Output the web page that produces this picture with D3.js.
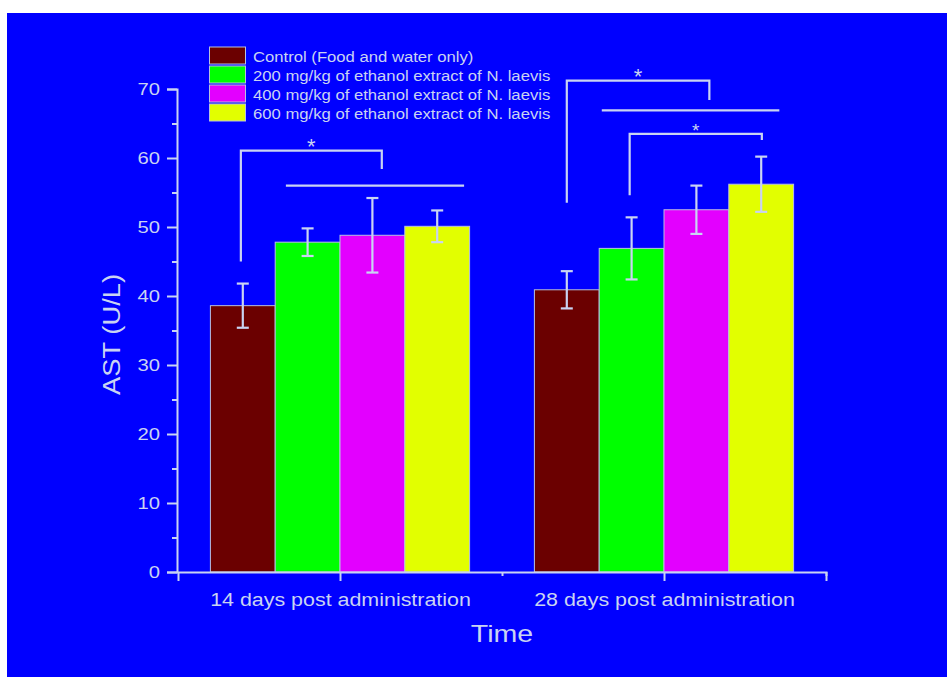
<!DOCTYPE html>
<html><head><meta charset="utf-8">
<script src="https://cdn.jsdelivr.net/npm/d3@7"></script>
<style>html,body{margin:0;padding:0;background:#fff;}svg{display:block;}</style>
</head><body>
<svg id="chart" width="947" height="677"></svg>
<script>
// ---- data ----
const groups = ["14 days post administration", "28 days post administration"];
const seriesNames = ["Control (Food and water only)", "200 mg/kg of ethanol extract of N. laevis",
  "400 mg/kg of ethanol extract of N. laevis", "600 mg/kg of ethanol extract of N. laevis"];
const seriesColors = ["#6b0000", "#00ff00", "#e300ff", "#e2ff00"];
const means14 = [38.6, 47.8, 48.8, 50.1];
const errs14 = [3.2, 2.0, 5.4, 2.3];
const means28 = [40.9, 46.9, 52.5, 56.2];
const errs28 = [2.7, 4.5, 3.5, 4.0];
const yTicks = [0, 10, 20, 30, 40, 50, 60, 70];
const yMinorTicks = [5, 15, 25, 35, 45, 55, 65];
// significance brackets: x positions on the group axis (group centers at 1 and 2), y in U/L
const brackets = [
  {x1: 0.694, x2: 1.129, yL: 45.0, yTop: 61.06, yR: 58.4, star: true},
  {x1: 0.833, x2: 1.383, yL: null, yTop: 56.0, yR: null, star: false},
  {x1: 1.700, x2: 2.140, yL: 53.5, yTop: 71.2, yR: 68.4, star: true},
  {x1: 1.808, x2: 2.356, yL: null, yTop: 66.9, yR: null, star: false},
  {x1: 1.894, x2: 2.302, yL: 54.6, yTop: 63.5, yR: 62.6, star: true, small: true}
];

const fg = "#c9d3f2";
const FONT = "Liberation Sans, Arial, sans-serif";
const STRETCH = 1.19;
const svg = d3.select("#chart");
svg.append("rect").attr("x", 7).attr("y", 13).attr("width", 940).attr("height", 664).attr("fill", "#0000ff");

const x = d3.scaleLinear().domain([0.5, 2.5]).range([178, 826]);
const y = d3.scaleLinear().domain([0, 70]).range([572, 89]);
const barW = 0.2;

const data = [];
[means14, means28].forEach((m, gi) => {
  m.forEach((v, si) => {
    const e = gi === 0 ? errs14[si] : errs28[si];
    data.push({g: gi + 1, s: si, v, e, cx: gi + 1 + (si - 1.5) * barW});
  });
});

// bars
svg.append("g").selectAll("rect").data(data).join("rect")
  .attr("x", d => x(d.cx - barW / 2))
  .attr("y", d => y(d.v))
  .attr("width", d => x(d.cx + barW / 2) - x(d.cx - barW / 2))
  .attr("height", d => y(0) - y(d.v))
  .attr("fill", d => seriesColors[d.s])
  .attr("stroke", "#b8c0e0").attr("stroke-width", 1);

// error bars
const eb = svg.append("g").attr("stroke", fg).attr("stroke-width", 2.2).attr("fill", "none");
data.forEach(d => {
  const cx = x(d.cx);
  eb.append("line").attr("x1", cx).attr("x2", cx).attr("y1", y(d.v + d.e)).attr("y2", y(d.v - d.e));
  eb.append("line").attr("x1", cx - 6).attr("x2", cx + 6).attr("y1", y(d.v + d.e)).attr("y2", y(d.v + d.e));
  eb.append("line").attr("x1", cx - 6).attr("x2", cx + 6).attr("y1", y(d.v - d.e)).attr("y2", y(d.v - d.e));
});

// brackets
const bg = svg.append("g").attr("stroke", fg).attr("stroke-width", 2.2).attr("fill", "none");
brackets.forEach(b => {
  const pts = [];
  if (b.yL !== null) pts.push([x(b.x1), y(b.yL)]);
  pts.push([x(b.x1), y(b.yTop)]);
  pts.push([x(b.x2), y(b.yTop)]);
  if (b.yR !== null) pts.push([x(b.x2), y(b.yR)]);
  bg.append("path").attr("d", d3.line()(pts));
  if (b.star) {
    svg.append("text").attr("x", (x(b.x1) + x(b.x2)) / 2).attr("y", y(b.yTop) + 3)
      .attr("text-anchor", "middle").attr("fill", fg)
      .attr("font-family", FONT)
      .attr("font-size", b.small ? 19 : 22).text("*");
  }
});

// y axis
svg.append("g").attr("transform", `translate(${x(0.5) - 1},0)`)
  .call(d3.axisLeft(y).tickValues(yTicks).tickSize(10).tickPadding(7))
  .selectAll(".tick text").attr("font-size", 17);
svg.append("g").attr("transform", `translate(${x(0.5) - 1},0)`)
  .call(d3.axisLeft(y).tickValues(yMinorTicks).tickSize(5).tickFormat(""))
  .select(".domain").remove();
// x axis
svg.append("g").attr("transform", `translate(0,${y(0)})`)
  .call(d3.axisBottom(x).tickValues([1, 2]).tickSize(9).tickPadding(12).tickFormat((d, i) => groups[i]))
  .selectAll(".tick text").attr("font-size", 18);
svg.append("g").attr("transform", `translate(0,${y(0)})`)
  .call(d3.axisBottom(x).tickValues([1.5, 2.5]).tickSize(4).tickFormat(""))
  .select(".domain").remove();

svg.selectAll(".domain").attr("stroke", fg).attr("stroke-width", 2);
svg.selectAll(".tick line").attr("stroke", fg).attr("stroke-width", 2);
svg.selectAll(".tick text").attr("fill", fg).attr("font-family", FONT).classed("stretch", true);

// axis titles
svg.append("text").attr("transform", `translate(120,334.5) rotate(-90)`).classed("stretch", true)
  .attr("text-anchor", "middle").attr("fill", fg)
  .attr("font-family", FONT).attr("font-size", 23).text("AST (U/L)");
svg.append("text").attr("x", 502).attr("y", 641.7).attr("text-anchor", "middle").attr("fill", fg).classed("stretch", true)
  .attr("font-family", FONT).attr("font-size", 24).text("Time");

// legend
const lg = svg.append("g");
seriesNames.forEach((n, i) => {
  const yy = 47 + i * 19;
  lg.append("rect").attr("x", 209.5).attr("y", yy).attr("width", 36).attr("height", 17)
    .attr("fill", seriesColors[i]).attr("stroke", "#b8c0e0").attr("stroke-width", 1);
  lg.append("text").attr("x", 253).attr("y", yy + 14.5).attr("fill", fg).classed("stretch", true)
    .attr("font-family", FONT).attr("font-size", 14).text(n);
});

// widen text glyphs along the baseline to match the reference's wider face
svg.selectAll("text.stretch").each(function () {
  const w = this.getComputedTextLength();
  if (w > 0) d3.select(this).attr("textLength", w * STRETCH).attr("lengthAdjust", "spacingAndGlyphs");
});
</script>
</body></html>
